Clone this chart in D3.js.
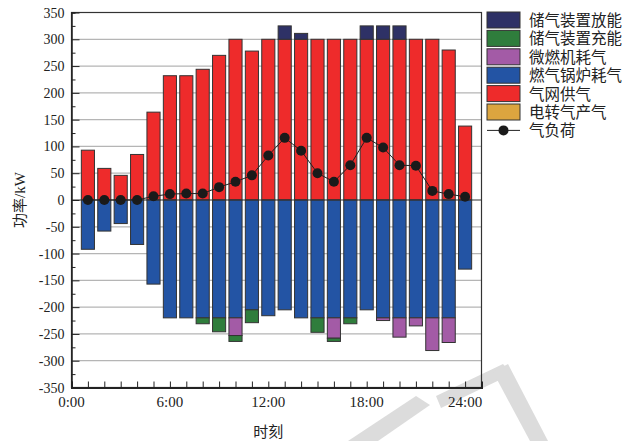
<!DOCTYPE html>
<html lang="zh">
<head>
<meta charset="UTF-8" />
<title>气网功率平衡</title>
<script src="https://cdn.jsdelivr.net/npm/d3@7"></script>
<style>
  body { margin: 0; background: #fff; }
  text { font-family: "Liberation Serif", "Times New Roman", serif; fill: #222; }
  .cn { font-family: "Liberation Serif", "Noto Sans CJK SC", serif; }
</style>
</head>
<body>
<div id="chart"></div>
<script>
// hours 1..24
const hours = d3.range(1, 25);
const gridSupply = [93, 59, 46, 85, 164, 232, 232, 244, 270, 300, 278, 300, 300, 300, 300, 300, 300, 300, 300, 300, 300, 300, 280, 138];
const storageOut = [0, 0, 0, 0, 0, 0, 0, 0, 0, 0, 0, 0, 25, 11, 0, 0, 0, 25, 25, 25, 0, 0, 0, 0];
const p2gOut = [0, 0, 0, 0, 0, 0, 0, 0, 0, 0, 0, 0, 0, 0, 0, 0, 0, 0, 0, 0, 0, 0, 0, 0];
const boilerUse = [92, 58, 44, 83, 157, 220, 220, 220, 220, 220, 205, 216, 205, 220, 220, 220, 220, 205, 220, 220, 220, 220, 220, 129];
const turbineUse = [0, 0, 0, 0, 0, 0, 0, 0, 0, 33, 0, 0, 0, 0, 0, 38, 0, 0, 5, 36, 15, 61, 46, 0];
const storageIn = [0, 0, 0, 0, 0, 0, 0, 11, 26, 11, 24, 0, 0, 0, 27, 6, 11, 0, 0, 0, 0, 0, 0, 0];
const gasLoad = [0, 0, 0, 0, 7, 11, 12, 12, 24, 34, 46, 83, 116, 92, 50, 34, 65, 116, 98, 65, 64, 17, 11, 6];

const yTicks = d3.range(-350, 351, 50);
const xTickLabels = ["0:00", "6:00", "12:00", "18:00", "24:00"];

const legendItems = [
  { name: "储气装置放能", color: "#2e3166" },
  { name: "储气装置充能", color: "#2f7d3c" },
  { name: "微燃机耗气", color: "#a35ba6" },
  { name: "燃气锅炉耗气", color: "#2354a4" },
  { name: "气网供气", color: "#ee2b2b" },
  { name: "电转气产气", color: "#dca53f" },
];

const W = 632, H = 441;
const mLeft = 71.5, mRight = 481.5, mTop = 12.5, mBottom = 387.5;

const svg = d3.select("#chart").append("svg")
  .attr("width", W).attr("height", H);

// watermark (faint grey strokes at bottom right)
const wm = svg.append("g").attr("fill", "#dcdcdc");
wm.append("polygon").attr("points", "348,441 378,441 430,405 416,396");
wm.append("polygon").attr("points", "436,396 503,364 512,374 441,408");
wm.append("polygon").attr("points", "493,372 508,364 548,441 530,441");

const x = d3.scaleLinear().domain([0, 25]).range([mLeft, mRight]);
const y = d3.scaleLinear().domain([-350, 350]).range([mBottom, mTop]);
const bw = (x(1) - x(0)) * 0.8;

// grid
svg.append("g").selectAll("line").data(yTicks.filter(d => d !== 0 && Math.abs(d) !== 350))
  .join("line")
  .attr("x1", mLeft).attr("x2", mRight)
  .attr("y1", d => y(d)).attr("y2", d => y(d))
  .attr("stroke", "#b5b5b5").attr("stroke-width", 1.2);

// stacked bars
const rows = hours.map((h, i) => ({
  h,
  pos: [["气网供气", gridSupply[i]], ["电转气产气", p2gOut[i]], ["储气装置放能", storageOut[i]]],
  neg: [["燃气锅炉耗气", boilerUse[i]], ["微燃机耗气", turbineUse[i]], ["储气装置充能", storageIn[i]]],
}));
const colorOf = d3.scaleOrdinal().domain(legendItems.map(d => d.name)).range(legendItems.map(d => d.color));

const segs = [];
rows.forEach(r => {
  let acc = 0;
  r.pos.forEach(([k, v]) => { if (v > 0) { segs.push({ h: r.h, k, y0: acc, y1: acc + v }); acc += v; } });
  acc = 0;
  r.neg.forEach(([k, v]) => { if (v > 0) { segs.push({ h: r.h, k, y0: acc, y1: acc - v }); acc -= v; } });
});

svg.append("g").selectAll("rect").data(segs).join("rect")
  .attr("x", d => x(d.h) - bw / 2)
  .attr("width", bw)
  .attr("y", d => y(Math.max(d.y0, d.y1)))
  .attr("height", d => Math.abs(y(d.y0) - y(d.y1)))
  .attr("fill", d => colorOf(d.k))
  .attr("stroke", "#333").attr("stroke-width", 1);

// zero line
svg.append("line").attr("x1", mLeft).attr("x2", mRight)
  .attr("y1", y(0)).attr("y2", y(0)).attr("stroke", "#333").attr("stroke-width", 1.2);

// frame
svg.append("rect").attr("x", mLeft).attr("y", mTop)
  .attr("width", mRight - mLeft).attr("height", mBottom - mTop)
  .attr("fill", "none").attr("stroke", "#333").attr("stroke-width", 1.2);

// load line
const line = d3.line().x((d, i) => x(hours[i])).y(d => y(d));
svg.append("path").datum(gasLoad).attr("d", line)
  .attr("fill", "none").attr("stroke", "#222").attr("stroke-width", 1);
svg.append("g").selectAll("circle").data(gasLoad).join("circle")
  .attr("cx", (d, i) => x(hours[i])).attr("cy", d => y(d))
  .attr("r", 5).attr("fill", "#1a1a1a");

// y axis (ticks inside)
const yAxis = d3.axisRight(y).tickValues(d3.range(-350, 351, 25)).tickSize(4).tickFormat("");
const gy = svg.append("g").attr("transform", `translate(${mLeft},0)`).call(yAxis);
gy.select(".domain").attr("stroke", "#222").attr("stroke-width", 1.5);
gy.selectAll(".tick line").attr("stroke", "#222").attr("x2", d => d % 50 === 0 ? 8 : 4);
svg.append("g").selectAll("text").data(yTicks).join("text")
  .attr("x", mLeft - 7).attr("y", d => y(d) + 5)
  .attr("text-anchor", "end").attr("font-size", 14)
  .text(d => d);

// x axis (ticks inside)
const xAxis = d3.axisTop(x).tickValues(d3.range(0, 25, 1)).tickSize(6).tickFormat("");
const gx = svg.append("g").attr("transform", `translate(0,${mBottom})`).call(xAxis);
gx.select(".domain").attr("stroke", "#222").attr("stroke-width", 2);
gx.selectAll(".tick line").attr("stroke", "#222");
svg.append("g").selectAll("text").data(xTickLabels).join("text")
  .attr("x", (d, i) => x(i * 6)).attr("y", 407)
  .attr("text-anchor", "middle").attr("font-size", 15)
  .text(d => d);

// axis titles
svg.append("text").attr("class", "cn").attr("x", x(12)).attr("y", 437)
  .attr("text-anchor", "middle").attr("font-size", 15).text("时刻");
svg.append("text").attr("class", "cn")
  .attr("transform", `translate(25,${y(0)}) rotate(-90)`)
  .attr("text-anchor", "middle").attr("font-size", 15).text("功率/kW");

// legend
const lg = svg.append("g").attr("transform", "translate(487,12)");
legendItems.forEach((d, i) => {
  const g = lg.append("g").attr("transform", `translate(0,${i * 18.4})`);
  g.append("rect").attr("width", 33).attr("height", 16)
    .attr("fill", d.color).attr("stroke", "#333").attr("stroke-width", 1);
  g.append("text").attr("class", "cn").attr("x", 42).attr("y", 14)
    .attr("font-size", 15.5).text(d.name);
});
const lgLine = lg.append("g").attr("transform", `translate(0,${6 * 18.4 + 8})`);
lgLine.append("line").attr("x1", 0).attr("x2", 33).attr("stroke", "#222").attr("stroke-width", 1);
lgLine.append("circle").attr("cx", 16.5).attr("r", 5).attr("fill", "#1a1a1a");
lgLine.append("text").attr("class", "cn").attr("x", 42).attr("y", 6)
  .attr("font-size", 15.5).text("气负荷");
</script>
</body>
</html>
